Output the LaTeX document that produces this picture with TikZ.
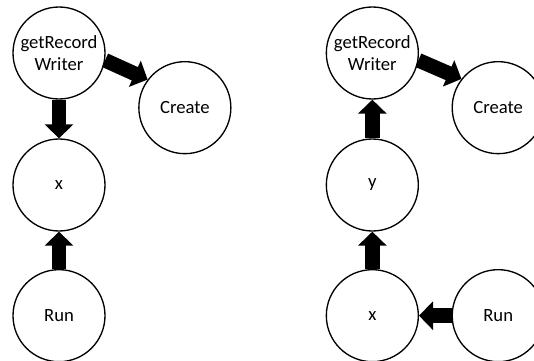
\documentclass[tikz,border=0pt]{standalone}
\usepackage{fontspec}
\setmainfont{Carlito}
\usepackage{tikz}
\usetikzlibrary{positioning}
\usetikzlibrary{arrows.meta}
\tikzstyle{callnode} = [draw, circle, line width=1pt, minimum size=69pt, inner sep=0pt, align=center, font=\fontsize{14}{16.5}\selectfont]
\tikzstyle{callarrow} = [line width=11pt, -{Triangle[width=21pt,length=10.5pt]}]

\begin{document}
\begin{tikzpicture}
  \useasboundingbox (-44.25pt,39.75pt) rectangle (356.25pt,-230.25pt);

  % left: getRecordWriter called from x
  \node[callnode] (grwA) {getRecord\\Writer};
  \node[callnode, right=24.4pt of grwA, yshift=-41pt] (createA) {Create};
  \node[callnode, below=29pt of grwA] (xA) {x};
  \node[callnode, below=28pt of xA] (runA) {Run};
  \draw[callarrow] (grwA.-9) -- (createA.143);
  \draw[callarrow] (grwA) -- (xA);
  \draw[callarrow] (runA) -- (xA);

  % right: y calls getRecordWriter
  \node[callnode, right=165pt of grwA] (grwB) {getRecord\\Writer};
  \node[callnode, right=24.4pt of grwB, yshift=-41pt] (createB) {Create};
  \node[callnode, below=29pt of grwB] (yB) {y};
  \node[callnode, below=28pt of yB] (xB) {x};
  \node[callnode, right=24.4pt of xB] (runB) {Run};
  \draw[callarrow] (grwB.-9) -- (createB.142);
  \draw[callarrow] (yB) -- (grwB);
  \draw[callarrow] (xB) -- (yB);
  \draw[callarrow] (runB) -- (xB);
\end{tikzpicture}
\end{document}
